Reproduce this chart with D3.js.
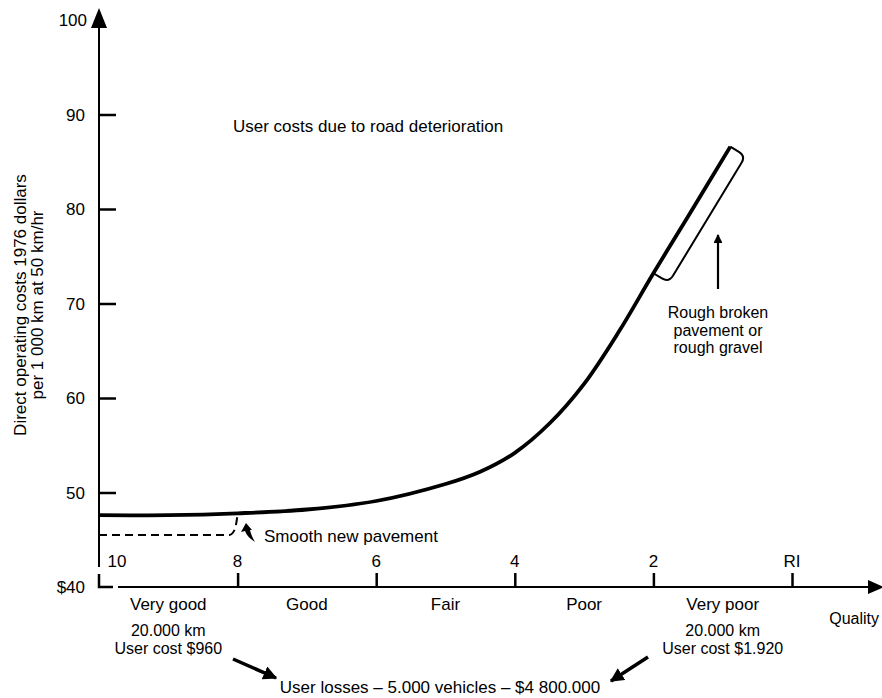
<!DOCTYPE html>
<html>
<head>
<meta charset="utf-8">
<script src="https://cdn.jsdelivr.net/npm/d3@7"></script>
<style>
  body { margin: 0; background: #fff; }
  svg { display: block; font-family: "Liberation Sans", Arial, sans-serif; }
</style>
</head>
<body>
<svg id="chart" width="882" height="698"></svg>
<script>
// curve: road quality index (10 = new) vs cost
const quality = [10, 9, 8, 7, 6, 5, 4.5, 4, 3.5, 3, 2.5, 2, 1.5, 0.89];
const cost = [47.6, 47.6, 47.8, 48.2, 49.1, 50.9, 52.2, 54.2, 57.3, 61.5, 67.0, 73.2, 79.2, 86.6];

// smooth new pavement (dashed)
const newQuality = [10, 8.12, 8.04, 8];
const newCost = [45.5, 45.5, 46.1, 47.7];

const costTicks = [50, 60, 70, 80, 90];
const costLabels = ["$40", "50", "60", "70", "80", "90", "100"];
const costLabelValues = [40, 50, 60, 70, 80, 90, 100];
const qualityTicks = [8, 6, 4, 2, 0];
const qualityLabels = ["10", "8", "6", "4", "2", "RI"];
const qualityLabelValues = [10, 8, 6, 4, 2, 0];
const bandNames = ["Very good", "Good", "Fair", "Poor", "Very poor"];
const bandCenters = [9, 7, 5, 3, 1];
const roughRange = [2.0, 0.89];

const width = 882, height = 698;
const fs = 17, fsSmall = 16;
const svg = d3.select("#chart");

const x = d3.scaleLinear().domain([10, 0]).range([99, 792]);
const y = d3.scaleLinear().domain([40, 100]).range([587, 20]);
const x0 = x(10), y0 = y(40);

// arrowheads
const defs = svg.append("defs");
defs.append("marker")
  .attr("id", "head")
  .attr("viewBox", "0 0 10 10")
  .attr("refX", 9).attr("refY", 5)
  .attr("markerWidth", 4).attr("markerHeight", 4)
  .attr("markerUnits", "strokeWidth")
  .attr("orient", "auto")
  .append("path").attr("d", "M0,0L10,5L0,10Z").attr("fill", "#000");

// y axis (broken near the origin)
svg.append("line").attr("x1", x0).attr("x2", x0)
  .attr("y1", 567).attr("y2", 26)
  .attr("stroke", "#000").attr("stroke-width", 2);
svg.append("path")
  .attr("d", `M${x0 - 8},28L${x0},8L${x0 + 8},28Z`)
  .attr("fill", "#000");
svg.append("path")
  .attr("d", `M${x0},574V${y0}H${x0 + 14}`)
  .attr("fill", "none").attr("stroke", "#000").attr("stroke-width", 2.5);

const yAxis = d3.axisRight(y).tickValues(costTicks).tickSize(17).tickFormat("");
svg.append("g")
  .attr("transform", `translate(${x0},0)`)
  .call(yAxis)
  .call(g => g.select(".domain").remove())
  .call(g => g.selectAll(".tick line").attr("stroke", "#000").attr("stroke-width", 2.5));

svg.append("g").selectAll("text")
  .data(costLabelValues)
  .join("text")
  .attr("x", d => d === 100 ? 87 : 85)
  .attr("y", d => y(d) + 6)
  .attr("text-anchor", "end")
  .attr("font-size", fs)
  .text((d, i) => costLabels[i]);

// x axis
svg.append("line").attr("x1", x0 + 19).attr("x2", 870)
  .attr("y1", y0).attr("y2", y0)
  .attr("stroke", "#000").attr("stroke-width", 2);
svg.append("path")
  .attr("d", `M868,${y0 - 7}L884,${y0}L868,${y0 + 7}Z`)
  .attr("fill", "#000");

const xAxis = d3.axisTop(x).tickValues(qualityTicks).tickSize(14).tickFormat("");
svg.append("g")
  .attr("transform", `translate(0,${y0})`)
  .call(xAxis)
  .call(g => g.select(".domain").remove())
  .call(g => g.selectAll(".tick line").attr("stroke", "#000").attr("stroke-width", 2.5));

svg.append("g").selectAll("text")
  .data(qualityLabelValues)
  .join("text")
  .attr("x", d => d === 10 ? x(d) + 18 : x(d))
  .attr("y", 567)
  .attr("text-anchor", "middle")
  .attr("font-size", fs)
  .text((d, i) => qualityLabels[i]);

svg.append("g").selectAll("text")
  .data(bandCenters)
  .join("text")
  .attr("x", d => x(d))
  .attr("y", 610)
  .attr("text-anchor", "middle")
  .attr("font-size", fs)
  .text((d, i) => bandNames[i]);

svg.append("text").attr("x", 879).attr("y", 624)
  .attr("text-anchor", "end")
  .attr("font-size", fsSmall).text("Quality");

// y axis title
const yTitle = svg.append("text")
  .attr("transform", "translate(0,305) rotate(-90)")
  .attr("text-anchor", "middle")
  .attr("font-size", fs);
yTitle.append("tspan").attr("x", 0).attr("y", 26).text("Direct operating costs 1976 dollars");
yTitle.append("tspan").attr("x", 0).attr("y", 43).text("per 1 000 km at 50 km/hr");

// curves
const line = d3.line()
  .x(d => x(d[0]))
  .y(d => y(d[1]));

svg.append("path")
  .datum(newQuality.map((q, i) => [q, newCost[i]]))
  .attr("d", line.curve(d3.curveMonotoneX))
  .attr("fill", "none")
  .attr("stroke", "#000")
  .attr("stroke-width", 2)
  .attr("stroke-dasharray", "8,5");

svg.append("path")
  .datum(quality.map((q, i) => [q, cost[i]]))
  .attr("d", line.curve(d3.curveCatmullRom.alpha(0.5)))
  .attr("fill", "none")
  .attr("stroke", "#000")
  .attr("stroke-width", 3.8);

// bracket along the rough section
const c = d3.scaleLinear().domain(quality.slice().reverse()).range(cost.slice().reverse());
const p1 = [x(roughRange[0]), y(c(roughRange[0]))];
const p2 = [x(roughRange[1]), y(c(roughRange[1]))];
const dx = p2[0] - p1[0], dy = p2[1] - p1[1];
const len = Math.hypot(dx, dy);
const ux = dx / len, uy = dy / len;
const nx = -uy, ny = ux; // perpendicular, pointing right/down
const off = 18, r = 8;
const pt = (p, a, b) => [p[0] + nx * a + ux * b, p[1] + ny * a + uy * b];
const b1 = pt(p1, off - r, 0), c1 = pt(p1, off, 0), e1 = pt(p1, off, r);
const b2 = pt(p2, off, -r), c2 = pt(p2, off, 0), e2 = pt(p2, off - r, 0);
svg.append("path")
  .attr("d", `M${p1}L${b1}Q${c1} ${e1}L${b2}Q${c2} ${e2}L${p2}`)
  .attr("fill", "none").attr("stroke", "#000").attr("stroke-width", 2);

// annotations
svg.append("text").attr("x", 233).attr("y", 132)
  .attr("font-size", fs).text("User costs due to road deterioration");

svg.append("line").attr("x1", 718).attr("x2", 718)
  .attr("y1", 289).attr("y2", 235)
  .attr("stroke", "#000").attr("stroke-width", 2.2)
  .attr("marker-end", "url(#head)");

const rough = svg.append("text").attr("text-anchor", "middle").attr("font-size", fsSmall);
["Rough broken", "pavement or", "rough gravel"].forEach((t, i) =>
  rough.append("tspan").attr("x", 718).attr("y", 318 + i * 17.5).text(t));

// small curly pointer for smooth new pavement
svg.append("path")
  .attr("d", "M246,523L241,532L245,531Q247,537 255,542Q251,535 250,530L252,530Z")
  .attr("fill", "#000");
svg.append("text").attr("x", 264).attr("y", 542)
  .attr("font-size", fs).text("Smooth new pavement");

// bottom notes
const leftNote = svg.append("text").attr("text-anchor", "middle").attr("font-size", fsSmall);
leftNote.append("tspan").attr("x", x(9)).attr("y", 636).text("20.000 km");
leftNote.append("tspan").attr("x", x(9)).attr("y", 653.5).text("User cost $960");

const rightNote = svg.append("text").attr("text-anchor", "middle").attr("font-size", fsSmall);
rightNote.append("tspan").attr("x", x(1)).attr("y", 636).text("20.000 km");
rightNote.append("tspan").attr("x", x(1)).attr("y", 653.5).text("User cost $1.920");

svg.append("line").attr("x1", 233).attr("y1", 659).attr("x2", 276).attr("y2", 678)
  .attr("stroke", "#000").attr("stroke-width", 3.5)
  .attr("marker-end", "url(#head)");
svg.append("line").attr("x1", 648).attr("y1", 657).attr("x2", 611).attr("y2", 681)
  .attr("stroke", "#000").attr("stroke-width", 3.5)
  .attr("marker-end", "url(#head)");

svg.append("text").attr("x", 440).attr("y", 693)
  .attr("text-anchor", "middle").attr("font-size", fs)
  .text("User losses – 5.000 vehicles – $4 800.000");
</script>
</body>
</html>
